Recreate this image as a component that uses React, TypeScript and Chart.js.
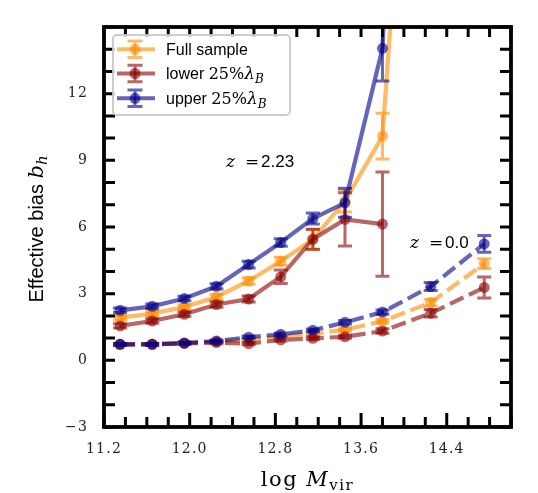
import React, { useEffect, useRef } from "react";
import { Chart, registerables } from "chart.js";

Chart.register(...registerables);

// ---- data ----
const massBins = [11.35, 11.65, 11.95, 12.25, 12.55, 12.85, 13.15, 13.45, 13.8, 14.25, 14.75];

// z = 2.23
const fullHighZ = [1.92, 2.1, 2.4, 2.85, 3.57, 4.46, 5.44, 7.17, 10.09, 40.5];
const fullHighZErr = [0.1, 0.1, 0.1, 0.12, 0.15, 0.18, 0.45, 0.5, 1.03, 5.0];
const lowerHighZ = [1.55, 1.77, 2.07, 2.51, 2.76, 3.76, 5.45, 6.34, 6.13];
const lowerHighZErr = [0.1, 0.1, 0.1, 0.12, 0.13, 0.3, 0.45, 1.2, 2.35];
const upperHighZ = [2.25, 2.43, 2.78, 3.33, 4.31, 5.3, 6.38, 7.09, 14.04, 58];
const upperHighZErr = [0.1, 0.1, 0.1, 0.12, 0.15, 0.17, 0.25, 0.65, 1.47, 8];

// z = 0.0
const fullLowZ = [0.72, 0.73, 0.78, 0.85, 0.92, 1.08, 1.2, 1.38, 1.76, 2.6, 4.35];
const fullLowZErr = [0.04, 0.04, 0.04, 0.04, 0.05, 0.05, 0.06, 0.06, 0.08, 0.15, 0.22];
const lowerLowZ = [0.72, 0.72, 0.76, 0.8, 0.75, 0.92, 0.99, 1.06, 1.32, 2.12, 3.28];
const lowerLowZErr = [0.04, 0.04, 0.04, 0.05, 0.05, 0.05, 0.06, 0.07, 0.1, 0.17, 0.47];
const upperLowZ = [0.72, 0.72, 0.78, 0.87, 1.04, 1.17, 1.35, 1.71, 2.17, 3.32, 5.24];
const upperLowZErr = [0.04, 0.04, 0.04, 0.05, 0.05, 0.06, 0.06, 0.08, 0.1, 0.18, 0.38];

const seriesLabels = ["Full sample", "lower 25%λ_B", "upper 25%λ_B"];
const xTickValues = [11.2, 12.0, 12.8, 13.6, 14.4];
const yTickValues = [-3, 0, 3, 6, 9, 12];
const xRange = [11.2, 15.0];
const yRange = [-3, 15];
const annotations = [
  { x: 12.34, y: 8.71, z: "z", eq: "=", val: "2.23" },
  { x: 14.057, y: 5.07, z: "z", eq: "=", val: "0.0" },
];

// ---- styles ----
const ORANGE = "rgba(255,140,0,0.6)";
const RED = "rgba(139,0,0,0.6)";
const BLUE = "rgba(0,0,139,0.6)";
const SERIF = '"DejaVu Serif", serif';
const SANS = '"Liberation Sans", Arial, sans-serif';

type Part = { t: string; font: string; dy?: number };

function partsWidth(ctx: CanvasRenderingContext2D, parts: Part[]) {
  let w = 0;
  for (const p of parts) {
    ctx.font = p.font;
    w += ctx.measureText(p.t).width;
  }
  return w;
}
function drawParts(ctx: CanvasRenderingContext2D, x: number, y: number, parts: Part[]) {
  let cx = x;
  for (const p of parts) {
    ctx.font = p.font;
    ctx.fillText(p.t, cx, y + (p.dy || 0));
    cx += ctx.measureText(p.t).width;
  }
}

function labelParts(label: string): Part[] {
  const m = label.match(/^(\S+) (\d+%)λ_(\w)$/);
  if (!m) return [{ t: label, font: `16px ${SANS}` }];
  return [
    { t: m[1] + " ", font: `16px ${SANS}` },
    { t: m[2], font: `16px ${SERIF}` },
    { t: "λ", font: `italic 17px ${SERIF}` },
    { t: m[3], font: `italic 12px ${SERIF}`, dy: 4 },
  ];
}

function makeData(vals: number[]) {
  return vals.map((v, i) => ({ x: massBins[i], y: v }));
}

const decorPlugin = {
  id: "decor",
  beforeDraw(chart: any) {
    chart.ctx.letterSpacing = "1.2px";
  },
  beforeDatasetsDraw(chart: any) {
    chart.ctx.letterSpacing = "0px";
  },
  afterDatasetDraw(chart: any, args: any) {
    const ds = chart.data.datasets[args.index];
    const errs: number[] = ds.errors;
    if (!errs) return;
    const ctx = chart.ctx;
    const ys = chart.scales.y;
    const { left, right, top, bottom } = chart.chartArea;
    ctx.save();
    ctx.beginPath();
    ctx.rect(left, top, right - left, bottom - top);
    ctx.clip();
    ctx.strokeStyle = ds.borderColor;
    ctx.lineWidth = 3;
    ctx.setLineDash([]);
    args.meta.data.forEach((el: any, i: number) => {
      const v = ds.data[i].y;
      const e = errs[i];
      if (e == null) return;
      const y1 = ys.getPixelForValue(v + e);
      const y2 = ys.getPixelForValue(v - e);
      ctx.beginPath();
      ctx.moveTo(el.x, y1);
      ctx.lineTo(el.x, y2);
      ctx.moveTo(el.x - 7, y1);
      ctx.lineTo(el.x + 7, y1);
      ctx.moveTo(el.x - 7, y2);
      ctx.lineTo(el.x + 7, y2);
      ctx.stroke();
    });
    ctx.restore();
  },
  afterDraw(chart: any) {
    const ctx: CanvasRenderingContext2D = chart.ctx;
    const xs = chart.scales.x;
    const ys = chart.scales.y;
    const { left, right, top, bottom } = chart.chartArea;
    ctx.save();
    (ctx as any).letterSpacing = "0px";

    // annotations
    ctx.fillStyle = "#000";
    ctx.textBaseline = "alphabetic";
    ctx.textAlign = "left";
    for (const a of annotations) {
      const px = xs.getPixelForValue(a.x);
      const py = ys.getPixelForValue(a.y);
      ctx.font = `italic 17px ${SERIF}`;
      ctx.fillText(a.z, px, py);
      ctx.font = `17px ${SERIF}`;
      ctx.fillText(a.eq, px + 19, py);
      ctx.font = `17px ${SANS}`;
      ctx.fillText(a.val, px + 35, py);
    }

    // spines
    ctx.strokeStyle = "#000";
    ctx.lineWidth = 3.8;
    ctx.strokeRect(left, top, right - left, bottom - top);

    // inward ticks
    ctx.lineWidth = 3;
    ctx.beginPath();
    const nx = Math.round((xRange[1] - xRange[0]) / 0.2);
    for (let k = 0; k <= nx; k++) {
      const px = xs.getPixelForValue(xRange[0] + 0.2 * k);
      const len = k % 4 === 0 ? 14 : 10;
      ctx.moveTo(px, bottom);
      ctx.lineTo(px, bottom - len);
      ctx.moveTo(px, top);
      ctx.lineTo(px, top + 10);
    }
    for (let v = yRange[0]; v <= yRange[1]; v++) {
      const py = ys.getPixelForValue(v);
      ctx.moveTo(left, py);
      ctx.lineTo(left + 11, py);
      ctx.moveTo(right, py);
      ctx.lineTo(right - 11, py);
    }
    ctx.stroke();

    // axis titles
    ctx.fillStyle = "#000";
    (ctx as any).letterSpacing = "1.5px";
    const xt: Part[] = [
      { t: "log ", font: `21px ${SERIF}` },
      { t: "M", font: `italic 21px ${SERIF}` },
      { t: "vir", font: `15px ${SERIF}`, dy: 4 },
    ];
    const xw = partsWidth(ctx, xt);
    drawParts(ctx, (left + right) / 2 - xw / 2, 486, xt);
    (ctx as any).letterSpacing = "0px";

    const yt: Part[] = [
      { t: "Effective bias ", font: `20px ${SANS}` },
      { t: "b", font: `italic 21px ${SERIF}` },
      { t: "h", font: `italic 15px ${SERIF}`, dy: 4 },
    ];
    const yw = partsWidth(ctx, yt);
    ctx.save();
    ctx.translate(43, (top + bottom) / 2 + 2);
    ctx.rotate(-Math.PI / 2);
    drawParts(ctx, -yw / 2, 0, yt);
    ctx.restore();

    // legend
    const lx = 113, ly = 35, lw = 177, lh = 80;
    ctx.beginPath();
    (ctx as any).roundRect(lx, ly, lw, lh, 4);
    ctx.fillStyle = "rgba(255,255,255,0.8)";
    ctx.fill();
    ctx.strokeStyle = "rgba(200,200,200,0.9)";
    ctx.lineWidth = 2;
    ctx.stroke();
    const rows = [49.3, 73.5, 98.3];
    const legendSets = chart.data.datasets.filter((d: any) => d.inLegend);
    legendSets.forEach((d: any, i: number) => {
      const ry = rows[i];
      const c = d.borderColor;
      ctx.strokeStyle = c;
      ctx.lineWidth = 4;
      ctx.beginPath();
      ctx.moveTo(117, ry);
      ctx.lineTo(155, ry);
      ctx.stroke();
      ctx.lineWidth = 3;
      ctx.beginPath();
      ctx.moveTo(135, ry - 8.3);
      ctx.lineTo(135, ry + 8.3);
      ctx.moveTo(127.5, ry - 8.3);
      ctx.lineTo(142.5, ry - 8.3);
      ctx.moveTo(127.5, ry + 8.3);
      ctx.lineTo(142.5, ry + 8.3);
      ctx.stroke();
      ctx.fillStyle = c;
      ctx.beginPath();
      ctx.arc(135, ry, 5.5, 0, Math.PI * 2);
      ctx.fill();
      ctx.fillStyle = "#000";
      drawParts(ctx, 166, ry + 5.6, labelParts(d.label));
    });
    ctx.restore();
  },
};

export default function App() {
  const ref = useRef<HTMLCanvasElement | null>(null);
  useEffect(() => {
    if (!ref.current) return;
    const base = (label: string, vals: number[], errs: number[], color: string, dashed: boolean, order: number, inLegend: boolean) => ({
      label,
      data: makeData(vals),
      errors: errs,
      inLegend,
      borderColor: color,
      backgroundColor: color,
      pointBackgroundColor: color,
      pointBorderWidth: 0,
      pointRadius: 5.5,
      borderWidth: 4.2,
      borderDash: dashed ? [15, 6] : [],
      tension: 0,
      order,
    });
    const chart = new Chart(ref.current, {
      type: "line",
      data: {
        datasets: [
          base(seriesLabels[0], fullHighZ, fullHighZErr, ORANGE, false, 6, true),
          base(seriesLabels[1], lowerHighZ, lowerHighZErr, RED, false, 5, true),
          base(seriesLabels[2], upperHighZ, upperHighZErr, BLUE, false, 4, true),
          base(seriesLabels[0], fullLowZ, fullLowZErr, ORANGE, true, 3, false),
          base(seriesLabels[1], lowerLowZ, lowerLowZErr, RED, true, 2, false),
          base(seriesLabels[2], upperLowZ, upperLowZErr, BLUE, true, 1, false),
        ] as any,
      },
      options: {
        animation: false,
        responsive: false,
        devicePixelRatio: 1,
        layout: { padding: { left: 0, right: 27, top: 27, bottom: 0 } },
        plugins: { legend: { display: false }, tooltip: { enabled: false }, title: { display: false } },
        scales: {
          x: {
            type: "linear",
            min: xRange[0],
            max: xRange[1],
            grid: { display: false, drawTicks: false },
            border: { display: false },
            afterBuildTicks: (s: any) => {
              s.ticks = xTickValues.map((v) => ({ value: v }));
            },
            afterFit: (s: any) => {
              s.height = 66;
            },
            ticks: {
              autoSkip: false,
              maxRotation: 0,
              padding: 14,
              color: "#222",
              font: { family: "DejaVu Serif", size: 14 },
              callback: (v: any) => Number(v).toFixed(1),
            },
          },
          y: {
            type: "linear",
            min: yRange[0],
            max: yRange[1],
            grid: { display: false, drawTicks: false },
            border: { display: false },
            afterBuildTicks: (s: any) => {
              s.ticks = yTickValues.map((v) => ({ value: v }));
            },
            afterFit: (s: any) => {
              s.width = 104;
            },
            ticks: {
              padding: 16,
              color: "#222",
              font: { family: "DejaVu Serif", size: 14 },
              callback: (v: any) => (Number(v) < 0 ? "\u2212" + Math.abs(Number(v)) : String(v)),
            },
          },
        },
      } as any,
      plugins: [decorPlugin as any],
    });
    return () => chart.destroy();
  }, []);
  return (
    <div style={{ position: "fixed", left: 0, top: 0, width: 538, height: 493, background: "#fff" }}>
      <canvas ref={ref} width={538} height={493} style={{ display: "block" }} />
    </div>
  );
}
